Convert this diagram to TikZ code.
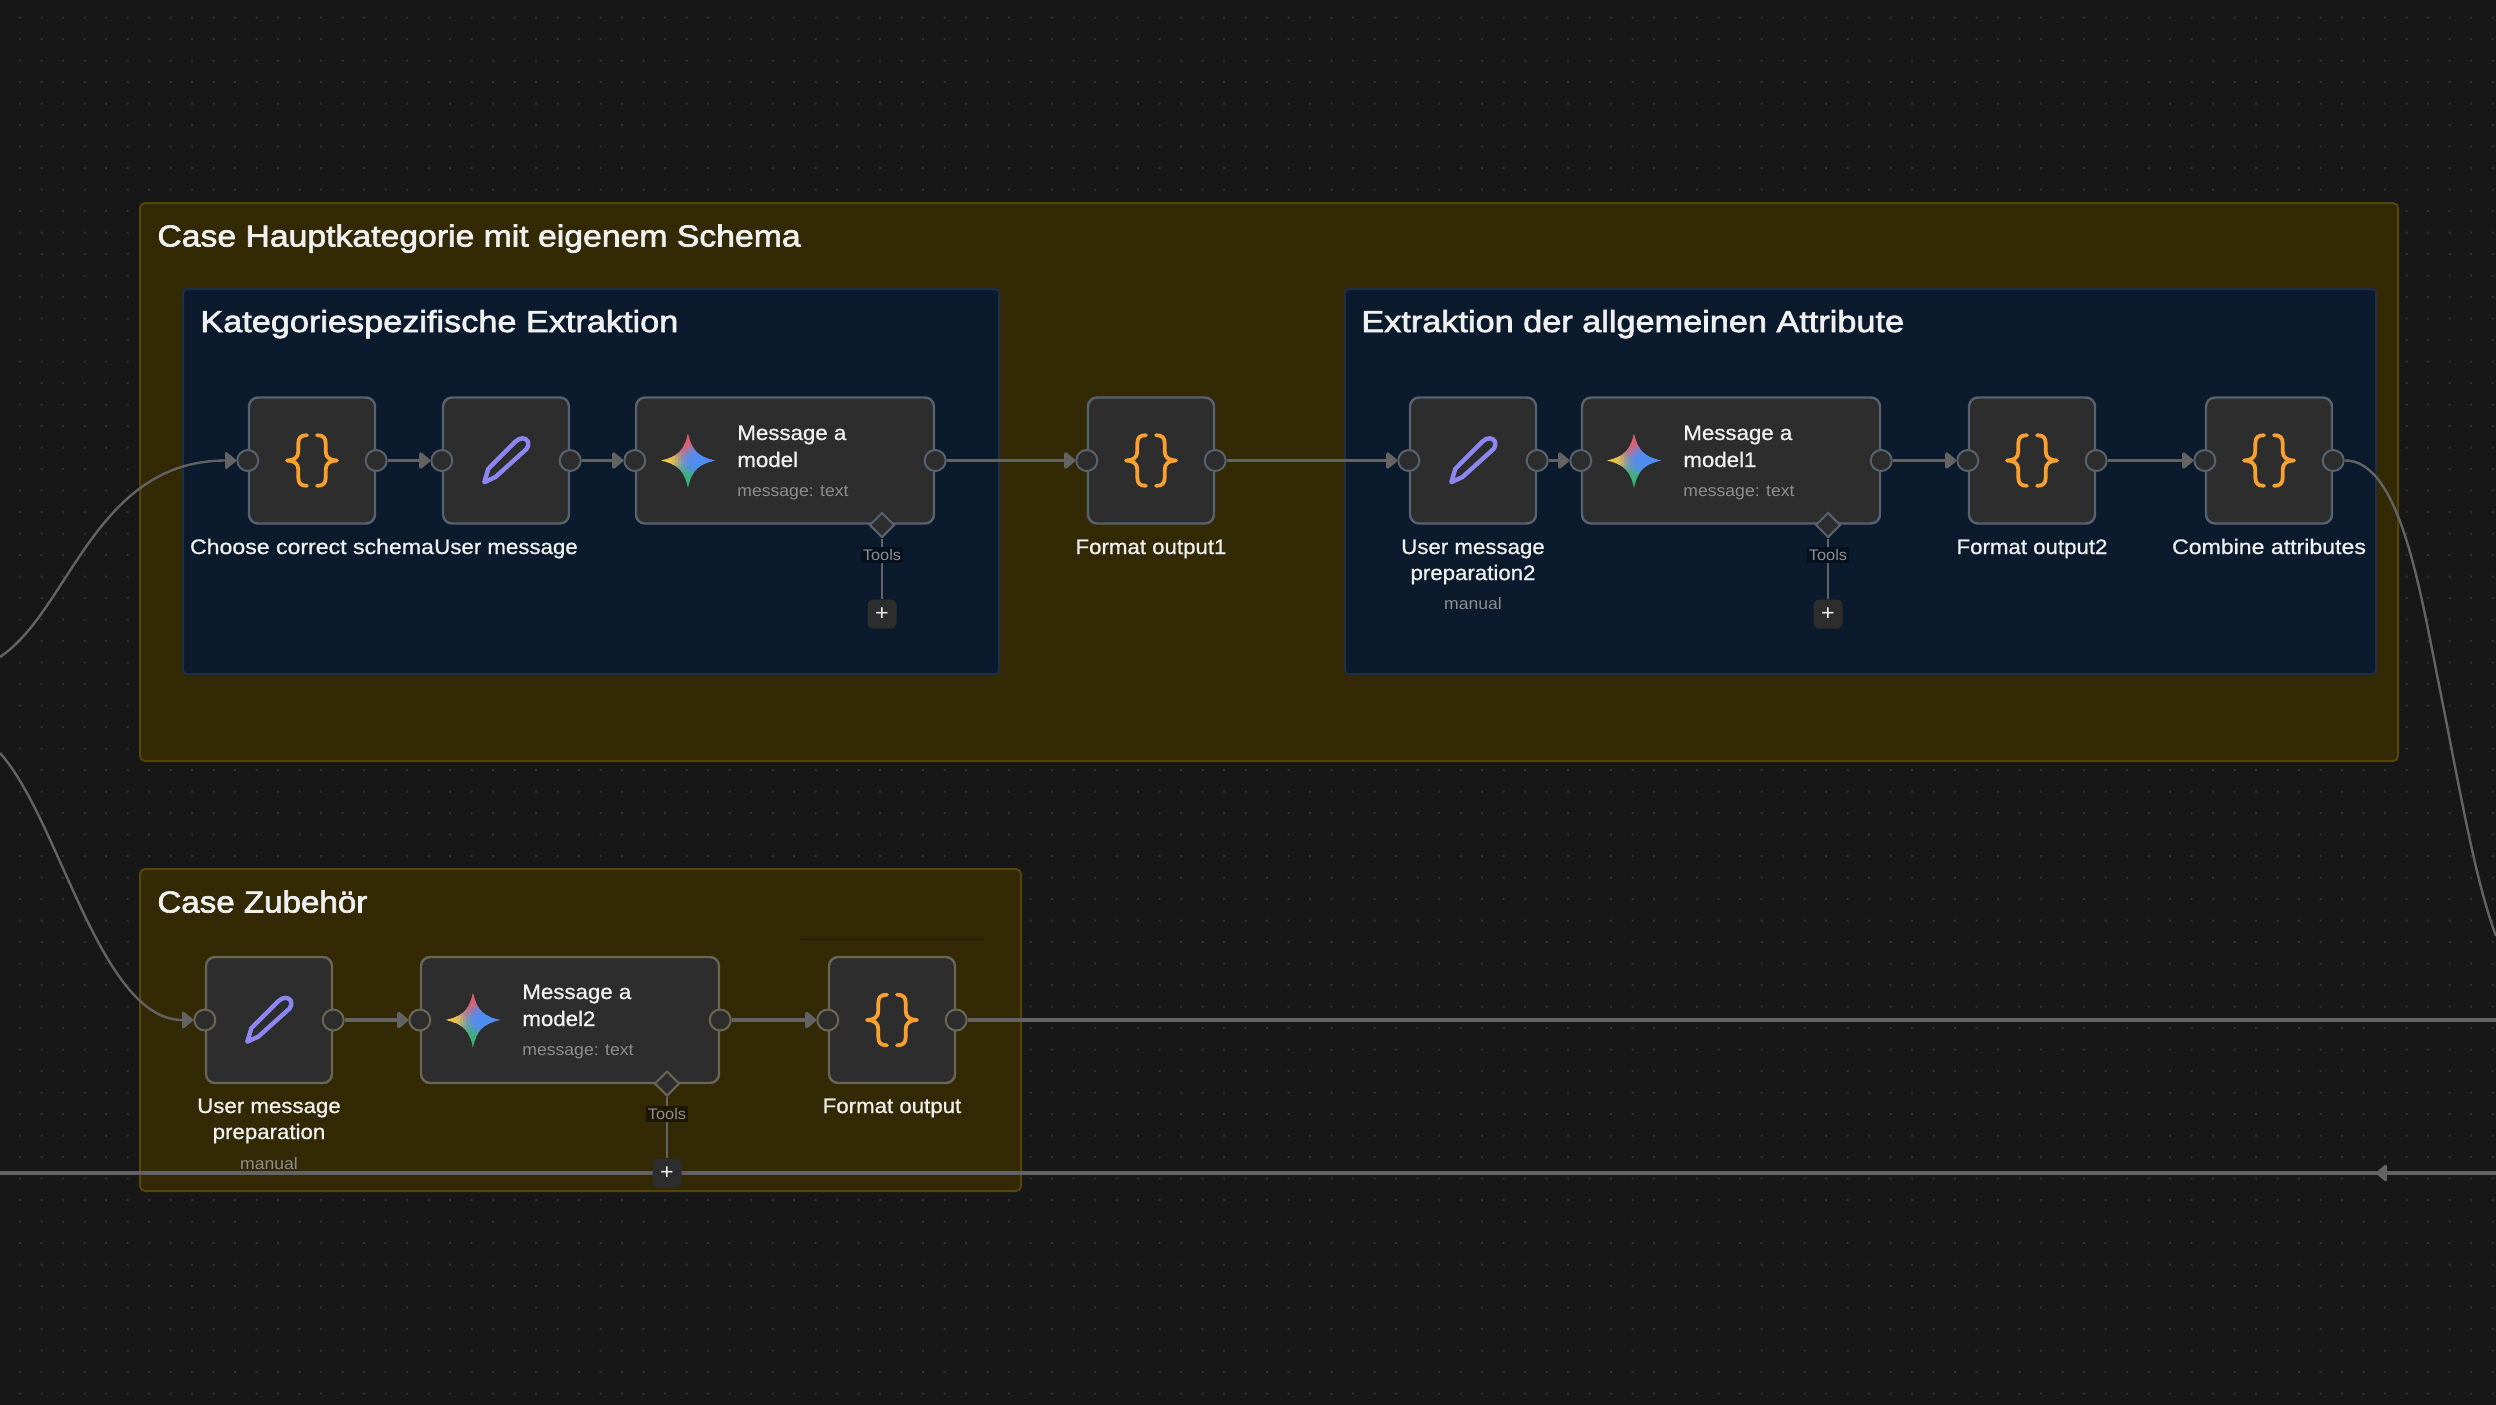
\documentclass[tikz,border=0pt]{standalone}
\usepackage{fontspec}
\setmainfont[FakeStretch=1.06]{Liberation Sans}
\newfontfamily\titlefont[FakeStretch=1.11,FakeBold=2.2]{Liberation Sans}
\newfontfamily\wtitlefont[FakeStretch=1.127,FakeBold=2.2]{Liberation Sans}
\newfontfamily\ntitlefont[FakeStretch=1.09,FakeBold=2.2]{Liberation Sans}
\newfontfamily\labelfont[FakeStretch=1.06,FakeBold=0.8]{Liberation Sans}
\newfontfamily\wlabelfont[FakeStretch=1.10,FakeBold=0.8]{Liberation Sans}
\usetikzlibrary{arrows.meta,shapes.geometric}
\definecolor{bgc}{HTML}{171717}
\definecolor{dotc}{HTML}{303030}
\definecolor{goldfill}{HTML}{332905}
\definecolor{goldrim}{HTML}{564408}
\definecolor{navyfill}{HTML}{0B1A2C}
\definecolor{navyrim}{HTML}{1D2E45}
\definecolor{cardc}{HTML}{2D2D2D}
\definecolor{rimA}{HTML}{58626E}
\definecolor{rimB}{HTML}{6A6655}
\definecolor{wirec}{HTML}{636363}
\definecolor{labelc}{HTML}{F0F0F0}
\definecolor{subc}{HTML}{8E8E8E}
\definecolor{bracec}{HTML}{F9A02F}
\definecolor{penc}{HTML}{8F87F1}
\tikzset{
  x=0.5pt,y=-0.5pt,
  groupbox/.style={fill=goldfill,draw=goldrim,line width=1pt,rounded corners=2.5pt},
  innerbox/.style={fill=navyfill,draw=navyrim,line width=1pt,rounded corners=2pt},
  card/.style={rectangle,fill=cardc,draw=#1,line width=1.2pt,rounded corners=4.5pt,inner sep=0pt,minimum height=63pt},
  squarecard/.style={card=#1,minimum width=63pt},
  widecard/.style={card=#1,minimum width=149pt},
  port/.style={circle,fill=cardc,draw=#1,line width=1pt,inner sep=0pt,minimum size=10.5pt},
  toolport/.style={diamond,fill=cardc,draw=#1,line width=1pt,inner sep=0pt,minimum size=12.5pt},
  plusbox/.style={rectangle,rounded corners=2.5pt,fill=cardc,text=labelc,inner sep=0pt,minimum size=14.5pt,font=\fontsize{11}{11}\selectfont},
  wire/.style={draw=wirec,line width=1.6pt},
  thinwire/.style={draw=wirec,line width=1.2pt},
  flow/.style={wire,-{Triangle[length=6pt,width=9.5pt,round]}},
  curveflow/.style={thinwire,-{Triangle[length=6pt,width=9.5pt,round]}},
  cardlabel/.style={anchor=base,align=center,text=labelc,inner sep=0pt,font=\labelfont\fontsize{10.5}{13}\selectfont},
  widelabel/.style={cardlabel,font=\wlabelfont\fontsize{10.5}{13}\selectfont},
  cardtitle/.style={anchor=base west,align=left,text=labelc,inner sep=0pt,font=\labelfont\fontsize{10.5}{13.5}\selectfont},
  subtext/.style={anchor=base,text=subc,inner sep=0pt,font=\fontsize{8.3}{10}\selectfont},
  subtextleft/.style={subtext,anchor=base west},
  toolslabel/.style={text=subc,inner sep=1pt,font=\fontsize{7.7}{9}\selectfont},
  grouptitle/.style={anchor=base west,text=labelc,inner sep=0pt,font=\titlefont\fontsize{15.2}{18}\selectfont},
  widetitle/.style={grouptitle,font=\wtitlefont\fontsize{15.2}{18}\selectfont},
  narrowtitle/.style={grouptitle,font=\ntitlefont\fontsize{15.2}{18}\selectfont},
}
\newcommand{\bracesicon}[2]{%
  \begin{scope}[shift={(#1,#2)},draw=bracec,line width=1.9pt,line cap=round,line join=round]
    \draw (-5,-25.3) .. controls (-11,-25.3) and (-13.7,-23) .. (-13.7,-17) -- (-13.7,-9) .. controls (-13.7,-3) and (-18,0) .. (-25,0) .. controls (-18,0) and (-13.7,3) .. (-13.7,9) -- (-13.7,17) .. controls (-13.7,23) and (-11,25.3) .. (-5,25.3);
    \draw (5,-25.3) .. controls (11,-25.3) and (13.7,-23) .. (13.7,-17) -- (13.7,-9) .. controls (13.7,-3) and (18,0) .. (25,0) .. controls (18,0) and (13.7,3) .. (13.7,9) -- (13.7,17) .. controls (13.7,23) and (11,25.3) .. (5,25.3);
  \end{scope}}
\newcommand{\pencilicon}[2]{%
  \begin{scope}[shift={(#1,#2)}]
    \draw[penc,line width=2.2pt,line join=round]
      (9.5,-19) .. controls (14,-23.5) and (20,-23) .. (22,-19) .. controls (23,-16) and (22,-13) .. (20.5,-11.5)
      -- (-10.5,16.5) -- (-21.7,21.7) -- (-17.7,8.3) -- cycle;
  \end{scope}}
% colour field of the four-point star: inverse-distance blend of four poles
\newcommand{\geminiicon}[2]{%
  \begin{scope}[shift={(#1,#2)}]
    \clip (0,-27) .. controls (4,-10) and (10,-4) .. (27,0) .. controls (10,4) and (4,10) .. (0,27) .. controls (-4,10) and (-10,4) .. (-27,0) .. controls (-10,-4) and (-4,-10) .. (0,-27) -- cycle;
    \foreach \cx in {-26,-23,...,28}{
      \foreach \cy in {-26,-23,...,28}{
        \pgfmathsetmacro{\wr}{100/(((\cx+5)/10)^2+((\cy+20)/10)^2+1.0)^2}
        \pgfmathsetmacro{\wy}{100/(((\cx+24)/10)^2+((\cy)/10)^2+1.0)^2}
        \pgfmathsetmacro{\wg}{100/(((\cx+3)/10)^2+((\cy-22)/10)^2+1.0)^2}
        \pgfmathsetmacro{\wb}{160/(((\cx-10)/10)^2+((\cy-0)/10)^2+1.0)^2}
        \pgfmathsetmacro{\ws}{\wr+\wy+\wg+\wb}
        \pgfmathsetmacro{\rr}{(0.92*\wr+0.96*\wy+0.21*\wg+0.30*\wb)/\ws}
        \pgfmathsetmacro{\gg}{(0.35*\wr+0.79*\wy+0.71*\wg+0.55*\wb)/\ws}
        \pgfmathsetmacro{\bb}{(0.40*\wr+0.27*\wy+0.42*\wg+0.97*\wb)/\ws}
        \definecolor{gemcell}{rgb}{\rr,\gg,\bb}
        \fill[gemcell] (\cx-1.9,\cy-1.9) rectangle ++(3.8,3.8);
      }
    }
  \end{scope}}
\begin{document}
\begin{tikzpicture}
\useasboundingbox (0,0) rectangle (2496,1404);
\fill[bgc] (-6,-6) rectangle (2502,1410);
\foreach \j in {0,...,64}{
  \pgfmathsetmacro{\yy}{16.7+\j*21.5}
  \fill[dotc] \foreach \i in {0,...,115}{ (19+\i*21.5,\yy) rectangle ++(2,2) };
}
% groups
\draw[groupbox] (140,203) rectangle (2398,761);
\draw[innerbox] (183,289) rectangle (999,674);
\draw[innerbox] (1345,289) rectangle (2376,674);
\draw[groupbox] (140,869) rectangle (1021,1191);
\draw[draw=black!40!goldfill,line width=0.5pt] (801,939) -- (984,939);
\node[grouptitle] (t1) at (157,246.5) {Case Hauptkategorie mit eigenem Schema};
\node[widetitle] (t2) at (200,332) {Kategoriespezifische Extraktion};
\node[widetitle] (t3) at (1361,332) {Extraktion der allgemeinen Attribute};
\node[narrowtitle] (t4) at (157,912.5) {Case Zubehör};
% free ends
\coordinate (leftA) at (0,657);
\coordinate (leftB) at (0,753);
\coordinate (rightA) at (2496,936);
\coordinate (rightB) at (2496,1020);
\coordinate (edgeL) at (0,1173);
\coordinate (edgeR) at (2496,1173);
\coordinate (arrowS) at (2400,1173);
\coordinate (arrowT) at (2376,1173);
% cards row 1
\node[squarecard=rimA] (n1) at (312,460.5) {};
\node[squarecard=rimA] (n2) at (506,460.5) {};
\node[widecard=rimA] (n3) at (785,460.5) {};
\node[squarecard=rimA] (n4) at (1151,460.5) {};
\node[squarecard=rimA] (n5) at (1473,460.5) {};
\node[widecard=rimA] (n6) at (1731,460.5) {};
\node[squarecard=rimA] (n7) at (2032,460.5) {};
\node[squarecard=rimA] (n8) at (2269,460.5) {};
% cards row 2
\node[squarecard=rimB] (n9) at (269,1020) {};
\node[widecard=rimB] (n10) at (570,1020) {};
\node[squarecard=rimB] (n11) at (892,1020) {};
% ports
\foreach \n in {n1,n2,n3,n4,n5,n6,n7,n8}{
  \node[port=rimA] (\n in) at (\n.west) {};
  \node[port=rimA] (\n out) at (\n.east) {};
}
\foreach \n in {n9,n10,n11}{
  \node[port=rimB] (\n in) at (\n.west) {};
  \node[port=rimB] (\n out) at (\n.east) {};
}
% connectors
\draw[flow] (n1out) -- (n2in);
\draw[flow] (n2out) -- (n3in);
\draw[flow] (n3out) -- (n4in);
\draw[flow] (n4out) -- (n5in);
\draw[flow] (n5out) -- (n6in);
\draw[flow] (n6out) -- (n7in);
\draw[flow] (n7out) -- (n8in);
\draw[flow] (n9out) -- (n10in);
\draw[flow] (n10out) -- (n11in);
\draw[wire] (n11out) -- (rightB);
\draw[curveflow] (leftA) .. controls (70,610) and (95,460.5) .. (n1in);
\draw[curveflow] (leftB) .. controls (60,820) and (100,1020) .. (n9in);
\draw[thinwire] (n8out) .. controls (2400,460) and (2420,590) .. (2440,690) .. controls (2460,790) and (2475,880) .. (rightA);
\draw[wire] (edgeL) -- (edgeR);
\draw[wire,-{Triangle[length=6pt,width=9.5pt,round]}] (arrowS) -- (arrowT);
% tool stubs
\node[toolport=rimA] (d3) at (882,525) {};
\node[plusbox] (p3) at (882,614) {+};
\draw[thinwire] (d3) -- (p3);
\node[toolslabel,fill=black!35!navyfill] (tl3) at (882,555) {Tools};
\node[toolport=rimA] (d6) at (1828,525) {};
\node[plusbox] (p6) at (1828,614) {+};
\draw[thinwire] (d6) -- (p6);
\node[toolslabel,fill=black!35!navyfill] (tl6) at (1828,555) {Tools};
\node[toolport=rimB] (d10) at (667,1083.5) {};
\node[plusbox] (p10) at (667,1173) {+};
\draw[thinwire] (d10) -- (p10);
\node[toolslabel,fill=black!45!goldfill] (tl10) at (667,1114) {Tools};
% icons
\bracesicon{312}{460.5}
\pencilicon{506}{460.5}
\geminiicon{688}{460.5}
\bracesicon{1151}{460.5}
\pencilicon{1473}{460.5}
\geminiicon{1634}{460.5}
\bracesicon{2032}{460.5}
\bracesicon{2269}{460.5}
\pencilicon{269}{1020}
\geminiicon{473}{1020}
\bracesicon{892}{1020}
% card text
\node[cardtitle] (m3) at (737,467) {Message a\\model};
\node[subtextleft] (s3) at (737,496) {message: text};
\node[cardtitle] (m6) at (1683,467) {Message a\\model1};
\node[subtextleft] (s6) at (1683,496) {message: text};
\node[cardtitle] (m10) at (522,1026) {Message a\\model2};
\node[subtextleft] (s10) at (522,1055) {message: text};
% labels
\node[widelabel] (l1) at (312,554) {Choose correct schema};
\node[cardlabel] (l2) at (506,554) {User message};
\node[cardlabel] (l4) at (1151,554) {Format output1};
\node[cardlabel] (l5) at (1473,580) {User message\\preparation2};
\node[subtext] (u5) at (1473,609) {manual};
\node[cardlabel] (l7) at (2032,554) {Format output2};
\node[widelabel] (l8) at (2269,554) {Combine attributes};
\node[cardlabel] (l9) at (269,1139) {User message\\preparation};
\node[subtext] (u9) at (269,1169) {manual};
\node[cardlabel] (l11) at (892,1113) {Format output};
\end{tikzpicture}
\end{document}
